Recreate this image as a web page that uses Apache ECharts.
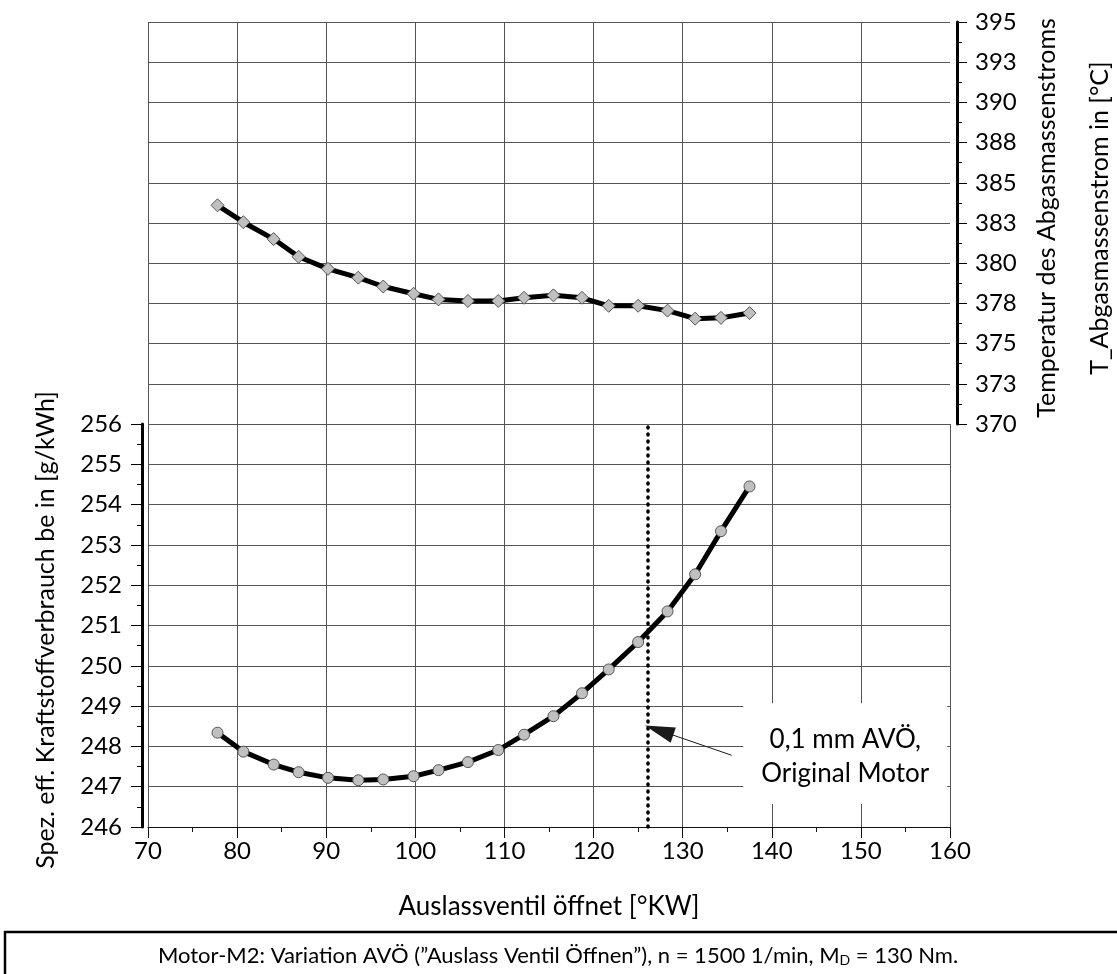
<!DOCTYPE html>
<html>
<head>
<meta charset="utf-8">
<script src="https://cdn.jsdelivr.net/npm/echarts@6/dist/echarts.min.js"></script>
<style>
html,body{margin:0;padding:0;background:#fff;}
#chart{width:1117px;height:974px;}
</style>
</head>
<body>
<div id="chart"></div>
<script>
// ---- data ----
const xOpen = [77.8, 80.7, 84.1, 86.9, 90.2, 93.6, 96.4, 99.8, 102.6, 105.9, 109.3, 112.2, 115.5, 118.7, 121.7, 125.0, 128.3, 131.4, 134.3, 137.5];
const tempExhaust = [383.6, 382.55, 381.5, 380.4, 379.65, 379.1, 378.55, 378.1, 377.75, 377.65, 377.65, 377.85, 378.0, 377.85, 377.35, 377.35, 377.05, 376.55, 376.6, 376.9];
const fuelBe = [248.34, 247.87, 247.55, 247.36, 247.22, 247.16, 247.18, 247.26, 247.41, 247.61, 247.91, 248.29, 248.75, 249.32, 249.91, 250.59, 251.35, 252.27, 253.34, 254.45];
const originalAvo = 126.1;
const xRange = [70, 160, 10];
const tempRange = [370, 395, 2.5];
const beRange = [246, 256, 1];
const leftTitle = 'Spez. eff. Kraftstoffverbrauch be in [g/kWh]';
const rightTitle1 = 'Temperatur des Abgasmassenstroms';
const rightTitle2 = 'T_Abgasmassenstrom in [°C]';
const xTitle = 'Auslassventil öffnet [°KW]';
const noteLines = ['0,1 mm AVÖ,', 'Original Motor'];

const FONT = 'Lato';
const chart = echarts.init(document.getElementById('chart'), null, {renderer: 'canvas'});
const gridColor = '#555';

const option = {
  animation: false,
  backgroundColor: '#fff',
  textStyle: {fontFamily: FONT, color: '#000'},
  grid: [
    {left: 148, top: 22, width: 802, height: 402},
    {left: 148, top: 424, width: 802, height: 403}
  ],
  xAxis: [
    {gridIndex: 0, type: 'value', min: xRange[0], max: xRange[1], interval: xRange[2],
     axisLine: {show: false}, axisTick: {show: false}, axisLabel: {show: false},
     splitLine: {show: true, showMaxLine: false, lineStyle: {color: gridColor, width: 1}}},
    {gridIndex: 1, type: 'value', min: xRange[0], max: xRange[1], interval: xRange[2],
     axisLine: {show: true, onZero: false, lineStyle: {color: '#111', width: 1}},
     axisTick: {show: true, length: 11, lineStyle: {color: '#111', width: 1}},
     minorTick: {show: true, splitNumber: 2, length: 5, lineStyle: {color: '#111', width: 1}},
     axisLabel: {fontSize: 24, color: '#000', margin: 12, fontFamily: FONT},
     splitLine: {show: true, lineStyle: {color: gridColor, width: 1}}}
  ],
  yAxis: [
    {gridIndex: 0, type: 'value', position: 'right', offset: 7,
     min: tempRange[0], max: tempRange[1], interval: tempRange[2],
     axisLine: {show: true, lineStyle: {color: '#000', width: 3}},
     axisTick: {show: true, length: 10, lineStyle: {color: '#000', width: 1}},
     minorTick: {show: true, splitNumber: 2, length: 5, lineStyle: {color: '#000', width: 1}},
     axisLabel: {formatter: v => String(Math.round(v)), fontSize: 24, color: '#000', margin: 18, fontFamily: FONT},
     splitLine: {show: true, lineStyle: {color: gridColor, width: 1}}},
    {gridIndex: 1, type: 'value', position: 'left', offset: 6,
     min: beRange[0], max: beRange[1], interval: beRange[2],
     axisLine: {show: true, onZero: false, lineStyle: {color: '#000', width: 3}},
     axisTick: {show: true, length: 11, lineStyle: {color: '#000', width: 1}},
     minorTick: {show: true, splitNumber: 2, length: 5, lineStyle: {color: '#000', width: 1}},
     axisLabel: {fontSize: 24, color: '#000', margin: 20, fontFamily: FONT},
     splitLine: {show: true, lineStyle: {color: gridColor, width: 1}}}
  ],
  series: [
    {name: 'T_Abgas', type: 'line', xAxisIndex: 0, yAxisIndex: 0,
     data: xOpen.map((x, i) => [x, tempExhaust[i]]),
     symbol: 'diamond', symbolSize: 13, showAllSymbol: true,
     lineStyle: {color: '#000', width: 5},
     itemStyle: {color: '#c0c0c0', borderColor: '#555', borderWidth: 1}, z: 5},
    {name: 'be', type: 'line', xAxisIndex: 1, yAxisIndex: 1,
     data: xOpen.map((x, i) => [x, fuelBe[i]]),
     symbol: 'circle', symbolSize: 11, showAllSymbol: true,
     lineStyle: {color: '#000', width: 5},
     itemStyle: {color: '#c0c0c0', borderColor: '#555', borderWidth: 1}, z: 5,
     markLine: {
       silent: true, animation: false,
       symbol: ['none', 'none'],
       label: {show: false},
       emphasis: {disabled: true},
       data: [
         {xAxis: originalAvo, lineStyle: {color: '#000', width: 3.5, type: [1, 6], cap: 'round'}},
         [
           {coord: [135.5, 247.78], symbol: 'none', lineStyle: {color: '#1a1a1a', width: 1, type: 'solid'}},
           {coord: [127.35, 248.4], symbol: 'triangle', symbolSize: [16, 30]}
         ]
       ]
     }}
  ]
};
chart.setOption(option);

// annotation box & titles (positioned from data through the chart scales)
const p1 = chart.convertToPixel({xAxisIndex: 1, yAxisIndex: 1}, [136.8, 249.07]);
const p2 = chart.convertToPixel({xAxisIndex: 1, yAxisIndex: 1}, [159.7, 246.57]);
const cx = (p1[0] + p2[0]) / 2, cy = (p1[1] + p2[1]) / 2;

chart.setOption({
  graphic: [
    {type: 'rect', z: 50, shape: {x: p1[0], y: p1[1], width: p2[0] - p1[0], height: p2[1] - p1[1]},
     style: {fill: '#fff', stroke: null}},
    {type: 'text', z: 51, x: cx, y: cy + 3,
     style: {text: noteLines.join('\n'), font: '26px ' + FONT, fill: '#000', align: 'center', verticalAlign: 'middle', lineHeight: 34}},
    {type: 'text', x: 46, y: 630, rotation: Math.PI / 2,
     style: {text: leftTitle, font: '25px ' + FONT, fill: '#000', align: 'center', verticalAlign: 'middle'}},
    {type: 'text', x: 1047, y: 218, rotation: Math.PI / 2,
     style: {text: rightTitle1, font: '25px ' + FONT, fill: '#000', align: 'center', verticalAlign: 'middle'}},
    {type: 'text', x: 1100, y: 218, rotation: Math.PI / 2,
     style: {text: rightTitle2, font: '25px ' + FONT, fill: '#000', align: 'center', verticalAlign: 'middle'}},
    {type: 'text', x: 549, y: 907,
     style: {text: xTitle, font: '26px ' + FONT, fill: '#000', align: 'center', verticalAlign: 'middle'}},
    {type: 'rect', shape: {x: 5, y: 932, width: 1130, height: 60},
     style: {fill: '#fff', stroke: '#000', lineWidth: 2.5}},
    {type: 'text', x: 558, y: 956,
     style: {
       text: 'Motor-M2: Variation AVÖ (”Auslass Ventil Öffnen”), n = 1500 1/min, M{sub|D} = 130 Nm.',
       font: '22px ' + FONT, fill: '#000', align: 'center', verticalAlign: 'middle',
       rich: {sub: {fontSize: 14, fontFamily: FONT, verticalAlign: 'bottom', padding: [9, 0, 0, 0]}}
     }}
  ]
});
</script>
</body>
</html>
